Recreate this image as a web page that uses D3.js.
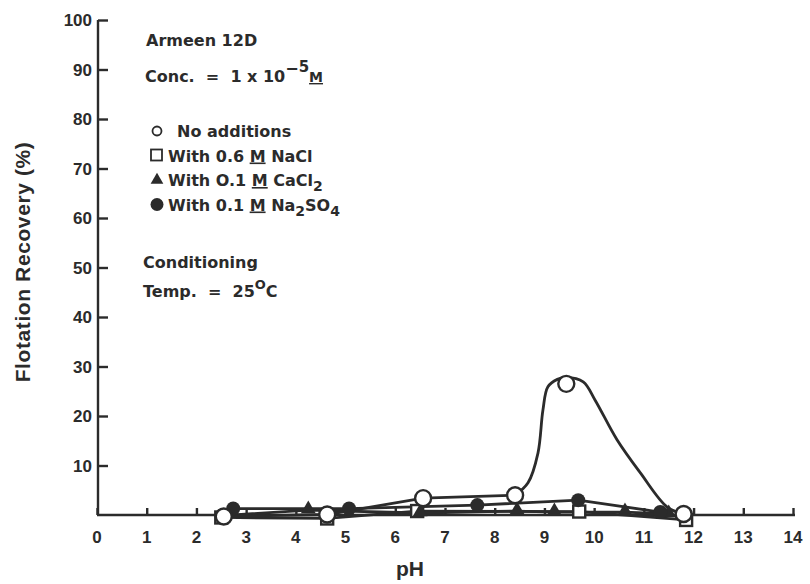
<!DOCTYPE html>
<html>
<head>
<meta charset="utf-8">
<script src="https://cdn.jsdelivr.net/npm/d3@7"></script>
<style>
  body { margin: 0; background: #fff; }
  svg { display: block; }
  text { fill: #2b2b2b; white-space: pre; }
</style>
</head>
<body>
<div id="container"></div>
<script>
// values
const xTicks = [0, 1, 2, 3, 4, 5, 6, 7, 8, 9, 10, 11, 12, 13, 14];
const yTicks = [10, 20, 30, 40, 50, 60, 70, 80, 90, 100];

// [pH, recovery %]
const noAdditions = [[2.55, -0.3], [4.63, 0.1], [6.56, 3.4], [8.41, 4.0], [9.44, 26.5], [11.8, 0.2]];
// hand-drawn curve of "no additions"
const noAdditionsCurve = [[8.41, 4.0], [8.67, 6.5], [8.87, 12.5], [8.97, 21.2], [9.07, 25.9], [9.26, 27.4],
  [9.44, 27.8], [9.78, 26.9], [10.02, 23.2], [10.46, 15.2], [10.93, 8.5], [11.47, 1.6], [11.8, 0.2]];
const withNaCl = [[2.5, -0.5], [4.63, -0.7], [6.44, 0.8], [9.7, 0.7], [11.85, -1.0]];
const withCaCl2 = [[2.45, -0.2], [4.25, 1.0], [6.5, 0.4], [8.45, 0.8], [9.2, 0.6], [10.62, 0.6], [11.5, 0.2]];
const withNa2SO4 = [[2.74, 1.3], [5.07, 1.3], [7.65, 2.0], [9.68, 3.0], [11.33, 0.6]];

const width = 810;
const height = 584;
const ink = "#2b2b2b";

const svg = d3.select("#container").append("svg")
  .attr("width", width).attr("height", height);

const x = d3.scaleLinear().domain([0, 14]).range([97, 793]);
const y = d3.scaleLinear().domain([0, 100]).range([515, 20]);

// axes
const xAxis = d3.axisTop(x).tickValues(xTicks).tickSize(7).tickFormat("");
const gx = svg.append("g").attr("transform", `translate(0, ${y(0)})`).call(xAxis);
gx.select(".domain").attr("d", `M${x(0)},0H${x(14) + 2}`);
gx.selectAll("path, line").attr("stroke", ink).attr("stroke-width", 2.4);

const yAxis = d3.axisRight(y).tickValues(yTicks).tickSize(10).tickFormat("");
const gy = svg.append("g").attr("transform", `translate(${x(0) + 1}, 0)`).call(yAxis);
gy.select(".domain").attr("d", `M0,${y(0)}V${y(100)}`);
gy.selectAll("path, line").attr("stroke", ink).attr("stroke-width", 2.4);

// tick labels
const numFont = "'Liberation Sans', Arial, sans-serif";
svg.append("g").selectAll("text").data(xTicks).enter().append("text")
  .attr("x", (d) => x(d)).attr("y", 543)
  .attr("text-anchor", "middle")
  .attr("font-family", numFont).attr("font-weight", "bold").attr("font-size", 17)
  .text((d) => d);

svg.append("g").selectAll("text").data(yTicks).enter().append("text")
  .attr("x", 92).attr("y", (d) => y(d) + 6)
  .attr("text-anchor", "end")
  .attr("font-family", numFont).attr("font-weight", "bold").attr("font-size", 17)
  .text((d) => d);

// axis titles
svg.append("text")
  .attr("x", 410).attr("y", 576)
  .attr("text-anchor", "middle")
  .attr("font-family", numFont).attr("font-weight", "bold").attr("font-size", 21)
  .text("pH");

svg.append("text")
  .attr("transform", "translate(30, 262) rotate(-90)")
  .attr("text-anchor", "middle")
  .attr("font-family", numFont).attr("font-weight", "bold").attr("font-size", 21)
  .attr("letter-spacing", 0.6)
  .text("Flotation Recovery (%)");

// lines
const line = d3.line().x((d) => x(d[0])).y((d) => y(d[1]));
const curve = d3.line().x((d) => x(d[0])).y((d) => y(d[1])).curve(d3.curveCatmullRom);

const lineGroup = svg.append("g").attr("fill", "none").attr("stroke", ink)
  .attr("stroke-width", 2.8).attr("stroke-linejoin", "round");
lineGroup.append("path").attr("d", line(withNaCl));
lineGroup.append("path").attr("d", line(withCaCl2));
lineGroup.append("path").attr("d", line(withNa2SO4));
lineGroup.append("path").attr("d", line(noAdditions.slice(0, 4)));
lineGroup.append("path").attr("d", curve(noAdditionsCurve));

// markers
svg.append("g").selectAll("rect").data(withNaCl).enter().append("rect")
  .attr("x", (d) => x(d[0]) - 6).attr("y", (d) => y(d[1]) - 6)
  .attr("width", 12).attr("height", 12)
  .attr("fill", "#fff").attr("stroke", ink).attr("stroke-width", 2.4);

const tri = d3.symbol().type(d3.symbolTriangle).size(95);
svg.append("g").selectAll("path").data(withCaCl2.slice(1)).enter().append("path")
  .attr("d", tri)
  .attr("transform", (d) => `translate(${x(d[0])}, ${y(d[1]) - 1})`)
  .attr("fill", ink);

svg.append("g").selectAll("circle").data(withNa2SO4).enter().append("circle")
  .attr("cx", (d) => x(d[0])).attr("cy", (d) => y(d[1]))
  .attr("r", 7).attr("fill", ink);

svg.append("g").selectAll("circle").data(noAdditions).enter().append("circle")
  .attr("cx", (d) => x(d[0])).attr("cy", (d) => y(d[1]))
  .attr("r", 8).attr("fill", "#fff").attr("stroke", ink).attr("stroke-width", 2.4);

// annotations
const txtFont = "'DejaVu Sans', sans-serif";
const note = svg.append("g").attr("font-family", txtFont).attr("font-weight", "bold").attr("font-size", 16);

note.append("text").attr("x", 146).attr("y", 46).text("Armeen 12D");

const conc = note.append("text").attr("x", 145).attr("y", 82);
conc.append("tspan").text("Conc.  =  1 x 10");
conc.append("tspan").attr("dy", -8).text("\u2212");
conc.append("tspan").attr("dy", -2).attr("font-size", 15).text("5");
conc.append("tspan").attr("dy", 10).attr("font-size", 14).attr("text-decoration", "underline").text("M");

const legendRows = [
  { label: ["No additions"], sym: "circle" },
  { label: ["With 0.6 ", "M", " NaCl"], sym: "square" },
  { label: ["With O.1 ", "M", " CaCl", "2"], sym: "triangle" },
  { label: ["With 0.1 ", "M", " Na", "2", "SO", "4"], sym: "dot" },
];

legendRows.forEach((row, i) => {
  const by = 137 + i * 24.5;
  const sx = 157;
  const g = svg.append("g");
  if (row.sym === "circle") {
    g.append("circle").attr("cx", sx).attr("cy", by - 6).attr("r", 4.5)
      .attr("fill", "#fff").attr("stroke", ink).attr("stroke-width", 1.8);
  } else if (row.sym === "square") {
    g.append("rect").attr("x", sx - 6).attr("y", by - 12).attr("width", 11).attr("height", 11)
      .attr("fill", "#fff").attr("stroke", ink).attr("stroke-width", 1.8);
  } else if (row.sym === "triangle") {
    g.append("path").attr("d", d3.symbol().type(d3.symbolTriangle).size(70))
      .attr("transform", `translate(${sx}, ${by - 6})`).attr("fill", ink);
  } else {
    g.append("circle").attr("cx", sx).attr("cy", by - 6).attr("r", 6.5).attr("fill", ink);
  }
  const t = note.append("text").attr("x", row.sym === "circle" ? 177 : 168).attr("y", by);
  row.label.forEach((part, j) => {
    const s = t.append("tspan").text(part);
    if (part === "M") s.attr("text-decoration", "underline");
    if (/^[24]$/.test(part)) s.attr("dy", 5).attr("font-size", 14);
    else if (j > 0 && /^[24]$/.test(row.label[j - 1])) s.attr("dy", -5);
  });
});

note.append("text").attr("x", 143).attr("y", 268).text("Conditioning");
const temp = note.append("text").attr("x", 143).attr("y", 297);
temp.append("tspan").text("Temp.  =  25");
temp.append("tspan").attr("dy", -8).attr("font-size", 13).text("O");
temp.append("tspan").attr("dy", 8).text("C");
</script>
</body>
</html>
